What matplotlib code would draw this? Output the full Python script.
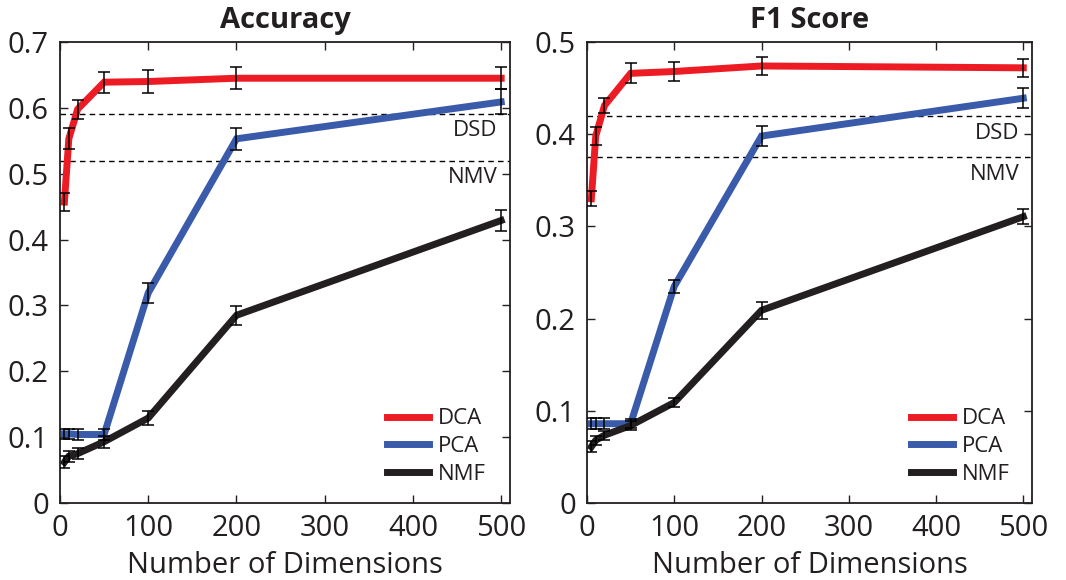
import matplotlib
matplotlib.use('Agg')
import matplotlib.pyplot as plt

plt.rcParams['font.family'] = ['Open Sans', 'DejaVu Sans']

dims = [5, 10, 20, 50, 100, 200, 500]
methods = ['DCA', 'PCA', 'NMF']

# accuracy panel
acc_dca = [0.457, 0.553, 0.598, 0.639, 0.640, 0.645, 0.645]
acc_dca_err = [0.014, 0.016, 0.0145, 0.016, 0.017, 0.0165, 0.0165]
acc_pca = [0.105, 0.105, 0.104, 0.104, 0.319, 0.553, 0.609]
acc_pca_err = [0.008, 0.008, 0.008, 0.009, 0.015, 0.017, 0.019]
acc_nmf = [0.062, 0.071, 0.075, 0.093, 0.129, 0.285, 0.429]
acc_nmf_err = [0.009, 0.008, 0.008, 0.009, 0.010, 0.0145, 0.016]
acc_baselines = {'DSD': 0.59, 'NMV': 0.52}

# F1 panel
f1_dca = [0.330, 0.398, 0.431, 0.466, 0.468, 0.474, 0.472]
f1_dca_err = [0.008, 0.010, 0.0085, 0.011, 0.0105, 0.0096, 0.010]
f1_pca = [0.086, 0.086, 0.086, 0.086, 0.235, 0.398, 0.439]
f1_pca_err = [0.006, 0.006, 0.006, 0.005, 0.007, 0.011, 0.011]
f1_nmf = [0.061, 0.068, 0.0735, 0.084, 0.109, 0.209, 0.3105]
f1_nmf_err = [0.006, 0.005, 0.005, 0.005, 0.005, 0.009, 0.008]
f1_baselines = {'DSD': 0.42, 'NMV': 0.375}

colors = ['#ED1C24', '#3A5BAA', '#231F20']
ink = '#231F20'


def panel(ax, title, series, errs, baselines, ymax, label_off):
    for vals, err, c, name in zip(series, errs, colors, methods):
        ax.plot(dims, vals, color=c, lw=5, label=name, solid_joinstyle='miter', zorder=2)
        ax.errorbar(dims, vals, yerr=err, fmt='none', ecolor='black',
                    elinewidth=1.1, capsize=4, capthick=1.1, zorder=3)
    for name, v in baselines.items():
        ax.axhline(v, color='black', lw=1, ls=(0, (4, 3)), zorder=1)
        ax.text(496, v - label_off, name, ha='right', va='center',
                fontsize=16, color=ink)
    ax.set_xlim(0, 510)
    ax.set_ylim(0, ymax)
    ax.set_xticks([0, 100, 200, 300, 400, 500])
    n = int(round(ymax * 10)) + 1
    ax.set_yticks([i / 10 for i in range(n)])
    ax.set_yticklabels([('0' if i == 0 else f'{i / 10:.1f}') for i in range(n)])
    ax.tick_params(direction='in', length=5.5, width=1, top=True, right=True,
                   labelsize=21, colors=ink, pad=8)
    for s in ax.spines.values():
        s.set_linewidth(1.3)
        s.set_color(ink)
    ax.set_title(title, fontsize=21, fontweight='bold', color=ink, pad=10)
    ax.set_xlabel('Number of Dimensions', fontsize=21, color=ink, labelpad=6)
    leg = ax.legend(loc='upper left', bbox_to_anchor=(0.727, 0.205), frameon=False,
                    fontsize=16, handlelength=1.9, handletextpad=0.4,
                    borderpad=0, borderaxespad=0, labelspacing=0.3)
    for t in leg.get_texts():
        t.set_color(ink)


fig = plt.figure(figsize=(10.66, 5.8), dpi=100)
ax1 = fig.add_axes([60 / 1066, 77 / 580, 450 / 1066, 461 / 580])
ax2 = fig.add_axes([587 / 1066, 77 / 580, 445 / 1066, 461 / 580])

panel(ax1, 'Accuracy', [acc_dca, acc_pca, acc_nmf],
      [acc_dca_err, acc_pca_err, acc_nmf_err], acc_baselines, 0.7, 0.025)
panel(ax2, 'F1 Score', [f1_dca, f1_pca, f1_nmf],
      [f1_dca_err, f1_pca_err, f1_nmf_err], f1_baselines, 0.5, 0.019)

fig.savefig('out.png', dpi=100)
